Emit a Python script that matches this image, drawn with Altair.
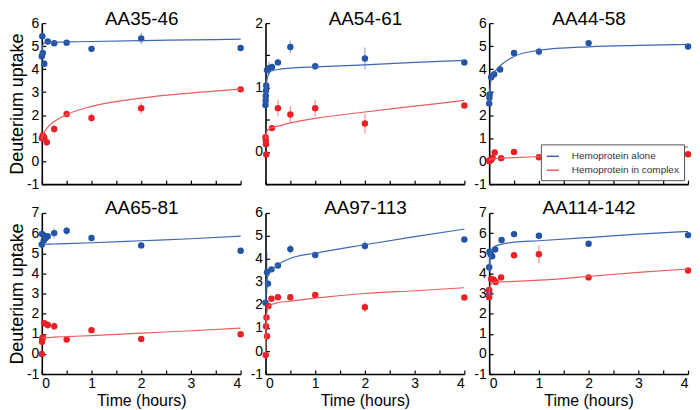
import altair as alt
import pandas as pd

TITLES = ["AA35-46", "AA54-61", "AA44-58", "AA65-81", "AA97-113", "AA114-142"]
SERIES = ["Hemoprotein alone", "Hemoprotein in complex"]
KEYS = ["alone", "complex"]
X_LABELS = [0, 1, 2, 3, 4]
X_TICKS = [0, 0.5, 1, 1.5, 2, 2.5, 3, 3.5, 4]

# ---- measured points (time in hours, uptake, error) ----
p1_a_t = [0, 0.01, 0.02, 0.05, 0.12, 0.25, 0.5, 1, 2, 4]
p1_a_y = [4.56, 5.43, 4.70, 4.23, 5.2, 5.12, 5.15, 4.88, 5.33, 4.92]
p1_a_e = [0.1, 0.15, 0.1, 0.15, 0.08, 0.1, 0.12, 0.05, 0.25, 0.05]
p1_c_t = [0, 0.02, 0.05, 0.1, 0.25, 0.5, 1, 2, 4]
p1_c_y = [1.0, 1.12, 1.02, 0.82, 1.4, 2.05, 1.88, 2.3, 3.12]
p1_c_e = [0.1, 0.1, 0.1, 0.15, 0.2, 0.08, 0.2, 0.25, 0.05]

p2_a_t = [0, 0.003, 0.006, 0.01, 0.015, 0.03, 0.07, 0.13, 0.25, 0.5, 1, 2, 4]
p2_a_y = [0.73, 0.80, 0.87, 0.95, 1.03, 1.27, 1.30, 1.32, 1.39, 1.63, 1.33, 1.45, 1.39]
p2_a_e = [0.05, 0.05, 0.05, 0.05, 0.05, 0.08, 0.1, 0.05, 0.05, 0.1, 0.05, 0.17, 0.03]
p2_c_t = [0, 0.005, 0.01, 0.015, 0.13, 0.25, 0.5, 1, 2, 4]
p2_c_y = [0.23, 0.18, 0.12, -0.04, 0.37, 0.68, 0.58, 0.68, 0.44, 0.72]
p2_c_e = [0.05, 0.05, 0.05, 0.03, 0.05, 0.13, 0.13, 0.13, 0.15, 0.03]

p3_a_t = [0, 0.005, 0.01, 0.04, 0.1, 0.22, 0.5, 1, 2, 4]
p3_a_y = [2.51, 2.75, 2.9, 3.65, 3.78, 3.98, 4.70, 4.76, 5.13, 4.98]
p3_a_e = [0.05, 0.1, 0.1, 0.08, 0.1, 0.1, 0.08, 0.18, 0.05, 0.05]
p3_c_t = [0, 0.005, 0.04, 0.07, 0.11, 0.24, 0.5, 1, 4]
p3_c_y = [0.03, 0.0, 0.07, 0.15, 0.38, 0.13, 0.40, 0.17, 0.30]
p3_c_e = [0.03, 0.03, 0.03, 0.05, 0.1, 0.03, 0.05, 0.03, 0.03]

p4_a_t = [0, 0.005, 0.04, 0.08, 0.12, 0.25, 0.5, 1, 2, 4]
p4_a_y = [5.43, 5.96, 5.63, 5.76, 5.85, 6.0, 6.12, 5.76, 5.39, 5.12]
p4_a_e = [0.05, 0.1, 0.1, 0.1, 0.1, 0.25, 0.2, 0.05, 0.05, 0.05]
p4_c_t = [0, 0.005, 0.01, 0.02, 0.05, 0.12, 0.25, 0.5, 1, 2, 4]
p4_c_y = [0.0, 0.6, 0.75, 0.82, 1.52, 1.44, 1.37, 0.72, 1.18, 0.74, 0.98]
p4_c_e = [0.05, 0.1, 0.1, 0.1, 0.15, 0.2, 0.2, 0.05, 0.08, 0.05, 0.05]

p5_a_t = [0, 0.03, 0.05, 0.12, 0.25, 0.5, 1, 2, 4]
p5_a_y = [2.1, 3.42, 2.93, 3.55, 3.72, 4.43, 4.17, 4.57, 4.85]
p5_a_e = [0.1, 0.9, 0.2, 0.1, 0.1, 0.2, 0.05, 0.2, 0.05]
p5_c_t = [0.005, 0.01, 0.02, 0.03, 0.06, 0.12, 0.25, 0.5, 1, 2, 4]
p5_c_y = [-0.17, 1.08, 1.46, 0.64, 1.96, 2.27, 2.34, 2.34, 2.44, 1.9, 2.33]
p5_c_e = [0.05, 0.05, 0.05, 0.05, 0.05, 0.1, 0.1, 0.1, 0.1, 0.2, 0.05]

p6_a_t = [0, 0, 0.005, 0.03, 0.06, 0.12, 0.25, 0.5, 1, 2, 4]
p6_a_y = [3.04, 4.3, 5.08, 4.95, 4.85, 5.19, 5.66, 5.95, 5.87, 5.47, 5.9]
p6_a_e = [0.05, 0.1, 0.1, 0.1, 0.1, 0.05, 0.05, 0.05, 0.15, 0.05, 0.05]
p6_c_t = [0, 0, 0.04, 0.09, 0.13, 0.24, 0.5, 1, 2, 4]
p6_c_y = [2.82, 3.18, 3.72, 3.69, 3.57, 3.8, 4.9, 4.95, 3.8, 4.14]
p6_c_e = [0.05, 0.05, 0.05, 0.05, 0.05, 0.05, 0.15, 0.45, 0.05, 0.05]

# ---- fitted curves, read at these times ----
FIT_T = [0, 0.01, 0.03, 0.06, 0.1, 0.25, 0.5, 1, 2, 3, 4]
p1_fit_a = [4.6, 4.9, 5.1, 5.15, 5.16, 5.17, 5.18, 5.2, 5.24, 5.27, 5.3]
p1_fit_c = [0.95, 1.05, 1.18, 1.3, 1.42, 1.72, 2.02, 2.38, 2.74, 2.96, 3.13]
p2_fit_a = [0.75, 0.95, 1.12, 1.2, 1.25, 1.28, 1.3, 1.32, 1.35, 1.39, 1.42]
p2_fit_c = [0.2, 0.26, 0.32, 0.35, 0.37, 0.4, 0.45, 0.52, 0.62, 0.71, 0.8]
p3_fit_a = [2.5, 3.0, 3.45, 3.7, 3.85, 4.2, 4.55, 4.82, 4.97, 5.03, 5.07]
p3_fit_c = [0.02, 0.05, 0.08, 0.1, 0.11, 0.13, 0.15, 0.2, 0.32, 0.47, 0.62]
p4_fit_a = [5.42, 5.43, 5.44, 5.44, 5.45, 5.46, 5.48, 5.52, 5.62, 5.72, 5.85]
p4_fit_c = [0.78, 0.79, 0.8, 0.8, 0.81, 0.83, 0.86, 0.91, 1.03, 1.15, 1.28]
p5_fit_a = [2.1, 2.7, 3.1, 3.3, 3.45, 3.75, 4.03, 4.25, 4.62, 4.97, 5.3]
p5_fit_c = [-0.1, 1.0, 1.7, 1.92, 2.0, 2.1, 2.17, 2.3, 2.5, 2.62, 2.75]
p6_fit_a = [4.1, 4.7, 5.05, 5.22, 5.32, 5.45, 5.55, 5.62, 5.78, 5.95, 6.08]
p6_fit_c = [2.9, 3.25, 3.45, 3.52, 3.55, 3.58, 3.6, 3.66, 3.85, 4.05, 4.22]

Y_DOMAINS = [[-1, 6], [-0.5, 2], [-1, 6], [-1, 7], [-1, 6], [-1, 7]]

BLUE_PT, RED_PT = "#2254a3", "#ea2027"
BLUE_LN, RED_LN = "#3f66b5", "#ec5b5e"
FONT = "Liberation Sans"
W, H = 200, 162


def panel(idx, a_t, a_y, a_e, c_t, c_y, c_e, fa, fc):
    bottom = idx >= 3
    left = idx % 3 == 0
    ydom = Y_DOMAINS[idx]
    lo, hi = ydom
    if idx == 1:
        ymajor = [0, 1, 2]
        yminor = [-0.5, 0, 0.5, 1, 1.5, 2]
    else:
        ymajor = list(range(int(lo), int(hi) + 1))
        yminor = ymajor

    pts = pd.DataFrame({
        "t": a_t + c_t, "y": a_y + c_y, "e": a_e + c_e,
        "k": [KEYS[0]] * len(a_t) + [KEYS[1]] * len(c_t),
    })
    fit = pd.DataFrame({
        "t": FIT_T + FIT_T, "y": fa + fc,
        "s": [SERIES[0]] * len(FIT_T) + [SERIES[1]] * len(FIT_T),
    })
    xs = alt.Scale(domain=[0, 4], nice=False, zero=False)
    ys = alt.Scale(domain=ydom, nice=False, zero=False)
    pt_scale = alt.Scale(domain=KEYS, range=[BLUE_PT, RED_PT])
    ln_scale = alt.Scale(domain=SERIES, range=[BLUE_LN, RED_LN])

    x_kw = dict(orient="bottom", values=X_LABELS, ticks=False, labels=bottom,
                labelPadding=3, grid=False, labelExpr="'' + datum.value")
    x_kw["title"] = "Time (hours)" if bottom else None
    main_x = alt.Axis(**x_kw)
    y_kw = dict(orient="left", values=ymajor, ticks=False, labelPadding=3,
                grid=False, labelExpr="'' + datum.value", titlePadding=0)
    y_kw["title"] = "Deuterium uptake" if left else None
    main_y = alt.Axis(**y_kw)
    tick_x = alt.Axis(orient="bottom", values=X_TICKS, offset=-4, tickSize=4,
                      domain=False, labels=False, grid=False, title=None)
    tick_y = alt.Axis(orient="left", values=yminor, offset=-4, tickSize=4,
                      domain=False, labels=False, grid=False, title=None)
    # panel heading drawn as the title of a bare top axis
    head_x = alt.Axis(orient="top", title=TITLES[idx], domain=False, ticks=False,
                      labels=False, grid=False, titleFontSize=19,
                      titleFontWeight="normal", titleFont=FONT, titleColor="black",
                      titleBaseline="alphabetic", titleY=1, titleX=W / 2,
                      titleAlign="center")

    if idx == 2:
        leg = alt.Legend(title=None, orient="bottom-right", offset=4,
                         fillColor="white", strokeColor="#555555", padding=5,
                         labelFontSize=10, labelFont=FONT, labelColor="#333333",
                         symbolStrokeWidth=1.5, symbolSize=150, labelOffset=12,
                         rowPadding=2, symbolType="stroke")
        stroke = alt.Stroke("s:N", scale=ln_scale, legend=leg)
    else:
        stroke = alt.Stroke("s:N", scale=ln_scale, legend=None)

    err = alt.Chart(pts).transform_calculate(
        lo="datum.y - datum.e", hi="datum.y + datum.e"
    ).mark_rule(strokeWidth=1.3, opacity=0.45).encode(
        x=alt.X("t:Q", scale=xs, axis=head_x),
        y=alt.Y("lo:Q", scale=ys, axis=None),
        y2="hi:Q",
        color=alt.Color("k:N", scale=pt_scale, legend=None),
    )
    dots = alt.Chart(pts).mark_circle(size=42, opacity=1).encode(
        x=alt.X("t:Q", scale=xs, axis=main_x),
        y=alt.Y("y:Q", scale=ys, axis=main_y),
        color=alt.Color("k:N", scale=pt_scale, legend=None),
    )
    lines = alt.Chart(fit).mark_line(strokeWidth=1.2, interpolate="monotone").encode(
        x=alt.X("t:Q", scale=xs, axis=tick_x),
        y=alt.Y("y:Q", scale=ys, axis=tick_y),
        stroke=stroke,
    )
    return alt.layer(err, dots, lines).resolve_axis(
        x="independent", y="independent"
    ).properties(width=W, height=H)


panels = [
    panel(0, p1_a_t, p1_a_y, p1_a_e, p1_c_t, p1_c_y, p1_c_e, p1_fit_a, p1_fit_c),
    panel(1, p2_a_t, p2_a_y, p2_a_e, p2_c_t, p2_c_y, p2_c_e, p2_fit_a, p2_fit_c),
    panel(2, p3_a_t, p3_a_y, p3_a_e, p3_c_t, p3_c_y, p3_c_e, p3_fit_a, p3_fit_c),
    panel(3, p4_a_t, p4_a_y, p4_a_e, p4_c_t, p4_c_y, p4_c_e, p4_fit_a, p4_fit_c),
    panel(4, p5_a_t, p5_a_y, p5_a_e, p5_c_t, p5_c_y, p5_c_e, p5_fit_a, p5_fit_c),
    panel(5, p6_a_t, p6_a_y, p6_a_e, p6_c_t, p6_c_y, p6_c_e, p6_fit_a, p6_fit_c),
]

chart = alt.concat(
    *panels, columns=3, spacing={"row": 29, "column": 25}, bounds="flush"
).resolve_scale(
    color="independent", stroke="independent"
).properties(
    padding=0
).configure_view(
    strokeWidth=0
).configure_axis(
    domainColor="black", domainWidth=1.6, tickColor="black", tickWidth=1.2,
    labelFont=FONT, labelFontSize=14, labelColor="black",
    titleFont=FONT, titleFontWeight="normal", titleColor="black",
).configure_axisX(
    titleFontSize=16, titlePadding=2,
).configure_axisY(
    titleFontSize=18,
)

chart.save("out.html", embed_options={"renderer": "svg", "actions": False})
